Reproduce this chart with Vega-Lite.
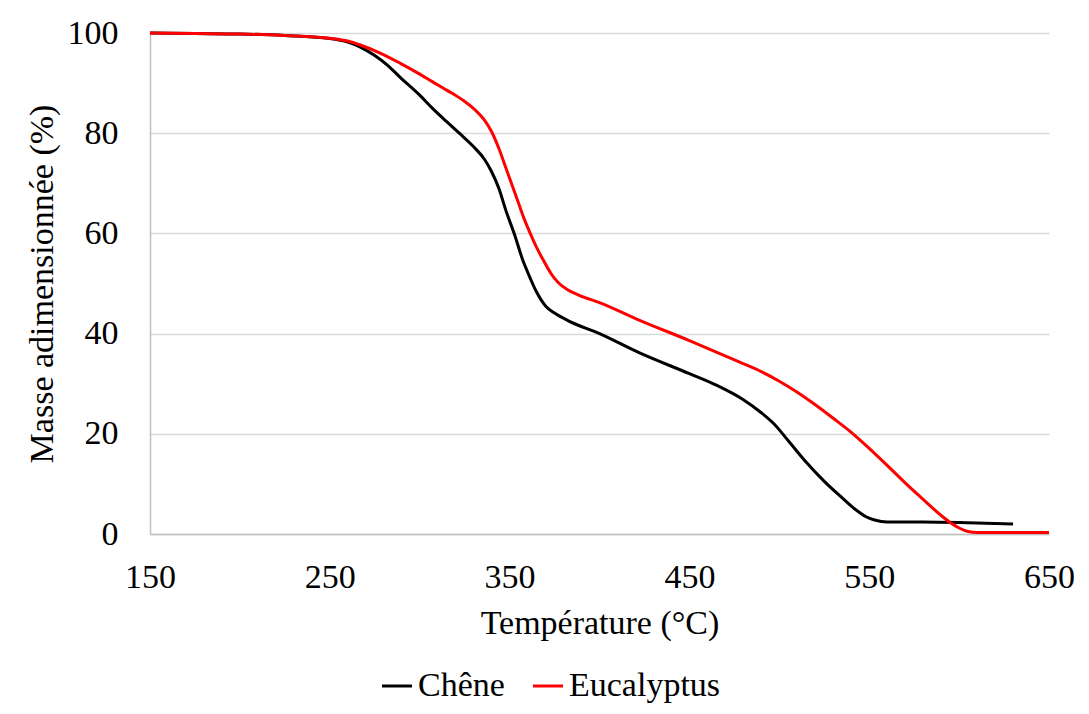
{
  "$schema": "https://vega.github.io/schema/vega-lite/v6.json",
  "width": 899,
  "height": 501,
  "autosize": {"type": "none"},
  "padding": {"left": 150, "top": 33, "right": 40, "bottom": 180},
  "background": "white",
  "config": {
    "font": "Liberation Serif",
    "view": {"stroke": null}
  },
  "data": {
    "values": [
      {"T": 150, "m": 100, "s": "Chêne"},
      {"T": 175, "m": 99.9, "s": "Chêne"},
      {"T": 200, "m": 99.8, "s": "Chêne"},
      {"T": 225, "m": 99.5, "s": "Chêne"},
      {"T": 250, "m": 98.9, "s": "Chêne"},
      {"T": 260, "m": 98.2, "s": "Chêne"},
      {"T": 267, "m": 97.2, "s": "Chêne"},
      {"T": 275, "m": 95.5, "s": "Chêne"},
      {"T": 282, "m": 93.6, "s": "Chêne"},
      {"T": 289, "m": 91.2, "s": "Chêne"},
      {"T": 300, "m": 87.6, "s": "Chêne"},
      {"T": 307, "m": 85.0, "s": "Chêne"},
      {"T": 315, "m": 82.3, "s": "Chêne"},
      {"T": 322, "m": 80, "s": "Chêne"},
      {"T": 330, "m": 77.3, "s": "Chêne"},
      {"T": 336, "m": 74.8, "s": "Chêne"},
      {"T": 340, "m": 72.3, "s": "Chêne"},
      {"T": 344, "m": 69, "s": "Chêne"},
      {"T": 348, "m": 64.5, "s": "Chêne"},
      {"T": 353, "m": 59.5, "s": "Chêne"},
      {"T": 357, "m": 55, "s": "Chêne"},
      {"T": 360, "m": 52.3, "s": "Chêne"},
      {"T": 365, "m": 48.3, "s": "Chêne"},
      {"T": 370, "m": 45.5, "s": "Chêne"},
      {"T": 375, "m": 44.1, "s": "Chêne"},
      {"T": 383, "m": 42.5, "s": "Chêne"},
      {"T": 400, "m": 40, "s": "Chêne"},
      {"T": 422, "m": 36.2, "s": "Chêne"},
      {"T": 450, "m": 32, "s": "Chêne"},
      {"T": 465, "m": 29.7, "s": "Chêne"},
      {"T": 480, "m": 26.8, "s": "Chêne"},
      {"T": 490, "m": 24.2, "s": "Chêne"},
      {"T": 497, "m": 22, "s": "Chêne"},
      {"T": 505, "m": 18.6, "s": "Chêne"},
      {"T": 515, "m": 14.3, "s": "Chêne"},
      {"T": 525, "m": 10.5, "s": "Chêne"},
      {"T": 535, "m": 7.2, "s": "Chêne"},
      {"T": 542, "m": 5, "s": "Chêne"},
      {"T": 548, "m": 3.5, "s": "Chêne"},
      {"T": 553, "m": 2.8, "s": "Chêne"},
      {"T": 560, "m": 2.4, "s": "Chêne"},
      {"T": 580, "m": 2.4, "s": "Chêne"},
      {"T": 600, "m": 2.3, "s": "Chêne"},
      {"T": 620, "m": 2.1, "s": "Chêne"},
      {"T": 630, "m": 2.0, "s": "Chêne"},
      {"T": 150, "m": 100, "s": "Eucalyptus"},
      {"T": 175, "m": 99.9, "s": "Eucalyptus"},
      {"T": 200, "m": 99.8, "s": "Eucalyptus"},
      {"T": 225, "m": 99.5, "s": "Eucalyptus"},
      {"T": 250, "m": 98.95, "s": "Eucalyptus"},
      {"T": 260, "m": 98.4, "s": "Eucalyptus"},
      {"T": 267, "m": 97.6, "s": "Eucalyptus"},
      {"T": 278, "m": 96.0, "s": "Eucalyptus"},
      {"T": 289, "m": 94.0, "s": "Eucalyptus"},
      {"T": 300, "m": 91.8, "s": "Eucalyptus"},
      {"T": 307, "m": 90.3, "s": "Eucalyptus"},
      {"T": 315, "m": 88.6, "s": "Eucalyptus"},
      {"T": 324, "m": 86.6, "s": "Eucalyptus"},
      {"T": 330, "m": 84.9, "s": "Eucalyptus"},
      {"T": 336, "m": 82.6, "s": "Eucalyptus"},
      {"T": 340, "m": 80.3, "s": "Eucalyptus"},
      {"T": 344, "m": 77, "s": "Eucalyptus"},
      {"T": 348, "m": 73, "s": "Eucalyptus"},
      {"T": 352, "m": 69, "s": "Eucalyptus"},
      {"T": 355, "m": 66, "s": "Eucalyptus"},
      {"T": 358, "m": 63, "s": "Eucalyptus"},
      {"T": 361, "m": 60.4, "s": "Eucalyptus"},
      {"T": 365, "m": 57.2, "s": "Eucalyptus"},
      {"T": 369, "m": 54.5, "s": "Eucalyptus"},
      {"T": 373, "m": 52, "s": "Eucalyptus"},
      {"T": 377, "m": 50.2, "s": "Eucalyptus"},
      {"T": 382, "m": 48.8, "s": "Eucalyptus"},
      {"T": 389, "m": 47.6, "s": "Eucalyptus"},
      {"T": 400, "m": 46.2, "s": "Eucalyptus"},
      {"T": 422, "m": 42.7, "s": "Eucalyptus"},
      {"T": 450, "m": 38.6, "s": "Eucalyptus"},
      {"T": 478, "m": 34.3, "s": "Eucalyptus"},
      {"T": 490, "m": 32.4, "s": "Eucalyptus"},
      {"T": 500, "m": 30.5, "s": "Eucalyptus"},
      {"T": 510, "m": 28.3, "s": "Eucalyptus"},
      {"T": 520, "m": 25.8, "s": "Eucalyptus"},
      {"T": 530, "m": 23.1, "s": "Eucalyptus"},
      {"T": 540, "m": 20.3, "s": "Eucalyptus"},
      {"T": 550, "m": 17.1, "s": "Eucalyptus"},
      {"T": 560, "m": 13.7, "s": "Eucalyptus"},
      {"T": 570, "m": 10.2, "s": "Eucalyptus"},
      {"T": 580, "m": 6.9, "s": "Eucalyptus"},
      {"T": 590, "m": 3.7, "s": "Eucalyptus"},
      {"T": 595, "m": 2.3, "s": "Eucalyptus"},
      {"T": 600, "m": 1.2, "s": "Eucalyptus"},
      {"T": 605, "m": 0.5, "s": "Eucalyptus"},
      {"T": 610, "m": 0.3, "s": "Eucalyptus"},
      {"T": 630, "m": 0.3, "s": "Eucalyptus"},
      {"T": 650, "m": 0.3, "s": "Eucalyptus"}
    ]
  },
  "mark": {"type": "line", "strokeWidth": 3, "interpolate": "monotone", "strokeCap": "butt"},
  "encoding": {
    "x": {
      "field": "T", "type": "quantitative",
      "scale": {"domain": [150, 650], "nice": false, "zero": false},
      "axis": {
        "values": [150, 250, 350, 450, 550, 650],
        "title": "Température (°C)",
        "grid": false, "ticks": false,
        "domainColor": "#bfbfbf", "domainWidth": 1.5,
        "labelFontSize": 34, "labelColor": "#000000", "labelPadding": 26,
        "labelFlush": false,
        "titleFontSize": 34, "titleFontWeight": "normal", "titleColor": "#000000", "titlePadding": 12
      }
    },
    "y": {
      "field": "m", "type": "quantitative",
      "scale": {"domain": [0, 100], "nice": false},
      "axis": {
        "values": [0, 20, 40, 60, 80, 100],
        "title": "Masse adimensionnée (%)",
        "grid": true, "gridColor": "#d9d9d9", "gridWidth": 1.5,
        "ticks": false,
        "domainColor": "#bfbfbf", "domainWidth": 1.5,
        "labelFontSize": 34, "labelColor": "#000000", "labelPadding": 32,
        "labelFlush": false,
        "titleFontSize": 34, "titleFontWeight": "normal", "titleColor": "#000000", "titlePadding": 8
      }
    },
    "color": {
      "field": "s", "type": "nominal",
      "scale": {"domain": ["Chêne", "Eucalyptus"], "range": ["#000000", "#ff0000"]},
      "legend": {
        "title": null,
        "orient": "none",
        "legendX": 230,
        "legendY": 636,
        "direction": "horizontal",
        "symbolType": "stroke",
        "symbolStrokeWidth": 3,
        "symbolSize": 900,
        "labelFontSize": 34,
        "labelColor": "#000000",
        "labelOffset": 4,
        "columnPadding": 22
      }
    }
  }
}
